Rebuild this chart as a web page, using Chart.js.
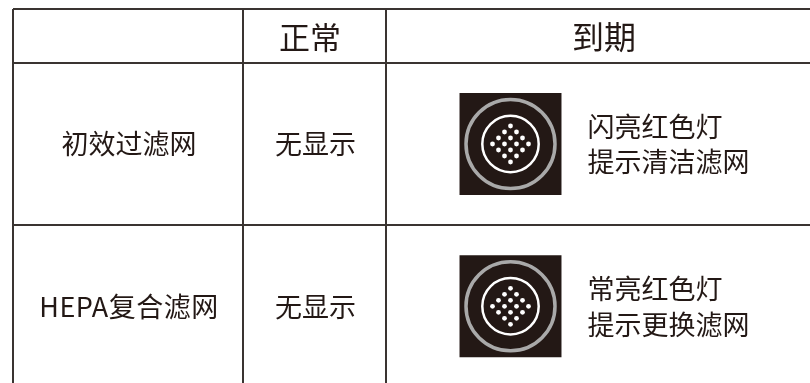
<!DOCTYPE html>
<html>
<head>
<meta charset="utf-8">
<title>滤网提示</title>
<script src="https://cdn.jsdelivr.net/npm/chart.js@4"></script>
<style>
  html, body { margin: 0; padding: 0; background: #fff; }
  canvas { display: block; }
</style>
</head>
<body>
<canvas id="table-chart" width="810" height="383"></canvas>
<script>
/* table rules and icons live on one pixel-like scale */
const columnEdges = [13, 243, 386];
const rowEdges = [9, 63, 225];

const columnHeaders = ['正常', '到期'];
const rowHeaders = ['初效过滤网', 'HEPA复合滤网'];
const normalStatus = ['无显示', '无显示'];
const expiredLine1 = ['闪亮红色灯', '常亮红色灯'];
const expiredLine2 = ['提示清洁滤网', '提示更换滤网'];

const iconX = [510.5, 510.5];
const iconY = [144, 306.3];

/* the 16 dots of the filter icon, as offsets from its centre */
const dotDx = [0, -6, 6, -12, 0, 12, -18, -6, 6, 18, -12, 0, 12, -6, 6, 0];
const dotDy = [-18, -12, -12, -6, -6, -6, 0, 0, 0, 0, 6, 6, 6, 12, 12, 18];

const iconPoints = iconX.map((x, i) => ({ x, y: iconY[i] }));
const dotPoints = iconX.flatMap((x, i) =>
  dotDx.map((dx, k) => ({ x: x + dx, y: iconY[i] + dotDy[k] }))
);

const INK = '#231815';
const RULE = '#3a3431';
const FONT = '"Noto Sans CJK SC", "Noto Sans", sans-serif';

/* ---------- Cell text ---------- */
const cellText = {
  id: 'cellText',
  afterDraw(chart) {
    const { ctx, scales: { x, y } } = chart;
    const put = (str, vx, vy, size, align) => {
      ctx.font = `400 ${size}px ${FONT}`;
      ctx.textAlign = align || 'center';
      ctx.fillText(str, x.getPixelForValue(vx), y.getPixelForValue(vy));
    };
    ctx.save();
    ctx.fillStyle = INK;
    ctx.textBaseline = 'middle';

    put(columnHeaders[0], 310, 37, 31);
    put(columnHeaders[1], 604, 37, 32);

    rowHeaders.forEach((label, i) => {
      ctx.letterSpacing = i === 1 ? '0.5px' : '0px';
      put(label, 129, iconY[i], 27);
      ctx.letterSpacing = '0px';
      put(normalStatus[i], 315.5, iconY[i], 27);
      put(expiredLine1[i], 587.5, iconY[i] - 17.5, 27, 'left');
      put(expiredLine2[i], 587.5, iconY[i] + 18, 27, 'left');
    });
    ctx.restore();
  }
};

new Chart(document.getElementById('table-chart'), {
  type: 'scatter',
  data: {
    datasets: [
      {
        data: dotPoints,
        order: 0,
        pointStyle: 'circle',
        pointRadius: 2.4,
        pointBorderWidth: 0,
        pointBackgroundColor: '#fff'
      },
      {
        data: iconPoints,
        order: 1,
        pointStyle: 'circle',
        pointRadius: 28.2,
        pointBorderWidth: 2.5,
        pointBorderColor: '#fff',
        pointBackgroundColor: 'rgba(0,0,0,0)'
      },
      {
        data: iconPoints,
        order: 2,
        pointStyle: 'circle',
        pointRadius: 44.5,
        pointBorderWidth: 3.5,
        pointBorderColor: '#a9a9a9',
        pointBackgroundColor: 'rgba(0,0,0,0)'
      },
      {
        data: iconPoints,
        order: 3,
        pointStyle: 'rect',
        pointRadius: 72.1,
        pointBorderWidth: 0,
        pointBackgroundColor: INK
      }
    ]
  },
  options: {
    responsive: false,
    animation: false,
    events: [],
    layout: { autoPadding: false, padding: { left: 13, top: 9 } },
    plugins: { legend: { display: false }, tooltip: { enabled: false } },
    scales: {
      x: {
        type: 'linear',
        min: 13,
        max: 810,
        afterBuildTicks: s => { s.ticks = columnEdges.map(value => ({ value })); },
        ticks: { display: false },
        border: { display: false },
        grid: { color: RULE, lineWidth: 2, drawTicks: false }
      },
      y: {
        type: 'linear',
        reverse: true,
        min: 9,
        max: 383,
        afterBuildTicks: s => { s.ticks = rowEdges.map(value => ({ value })); },
        ticks: { display: false },
        border: { display: false },
        grid: { color: RULE, lineWidth: 2, drawTicks: false }
      }
    }
  },
  plugins: [cellText]
});
</script>
</body>
</html>
